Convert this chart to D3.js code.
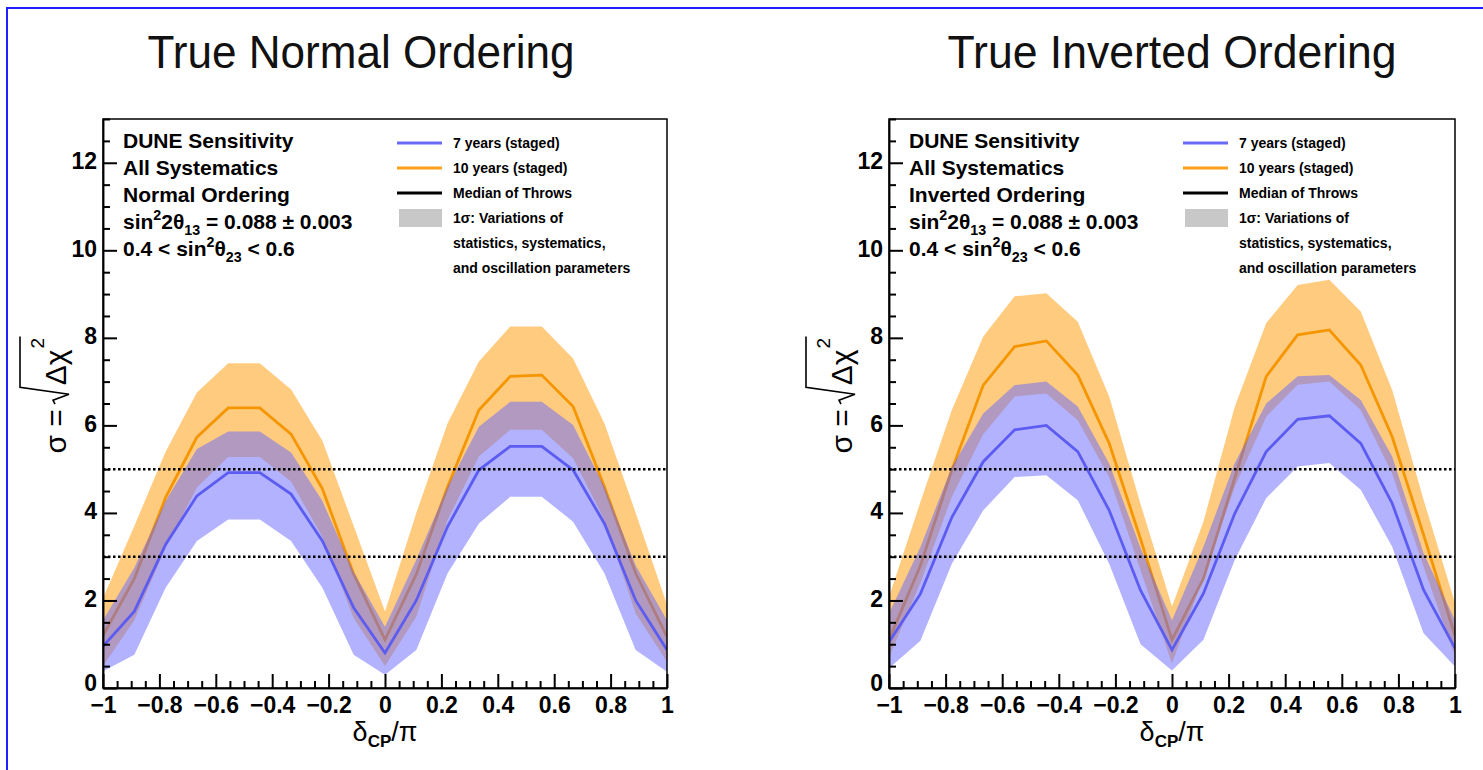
<!DOCTYPE html>
<html><head><meta charset="utf-8">
<script src="https://cdn.jsdelivr.net/npm/d3@7"></script>
<style>
body{margin:0;background:#fff}
svg{display:block}
text{font-family:"Liberation Sans",Arial,Helvetica,sans-serif}
</style>
</head><body>
<svg id="c" width="1483" height="770"></svg>
<script>
// ---------------- data ----------------
const deltaCP = [-1, -0.889, -0.778, -0.667, -0.556, -0.444, -0.333, -0.222, -0.111, 0,
                 0.111, 0.222, 0.333, 0.444, 0.556, 0.667, 0.778, 0.889, 1];

// True Normal Ordering
const noOrangeMed = [1.2, 2.5, 4.35, 5.73, 6.4, 6.4, 5.8, 4.55, 2.6, 1.1, 2.6, 4.6, 6.35, 7.12, 7.15, 6.43, 4.6, 2.62, 1.17];
const noOrangeHi  = [2.05, 3.7, 5.4, 6.75, 7.42, 7.42, 6.82, 5.65, 3.7, 1.75, 4.0, 6.05, 7.46, 8.26, 8.26, 7.53, 6.05, 4.0, 1.9];
const noOrangeLo  = [0.5, 1.55, 3.2, 4.58, 5.28, 5.28, 4.72, 3.45, 1.6, 0.5, 1.63, 3.84, 5.29, 5.9, 5.9, 5.25, 3.84, 1.7, 0.6];
const noBlueMed   = [0.95, 1.75, 3.28, 4.39, 4.92, 4.92, 4.43, 3.36, 1.83, 0.8, 2.0, 3.69, 4.98, 5.52, 5.52, 4.98, 3.76, 2.0, 0.87];
const noBlueHi    = [1.55, 2.75, 4.27, 5.46, 5.86, 5.86, 5.38, 4.27, 2.65, 1.4, 2.93, 4.6, 5.97, 6.54, 6.54, 6.01, 4.6, 2.8, 1.55];
const noBlueLo    = [0.38, 0.76, 2.29, 3.36, 3.85, 3.85, 3.36, 2.29, 0.76, 0.3, 0.87, 2.62, 3.76, 4.37, 4.37, 3.8, 2.62, 0.87, 0.37];

// True Inverted Ordering
const ioOrangeMed = [1.1, 2.8, 4.98, 6.92, 7.8, 7.93, 7.15, 5.59, 3.4, 1.1, 2.5, 4.8, 7.12, 8.07, 8.18, 7.38, 5.74, 3.5, 1.2];
const ioOrangeHi  = [2.08, 4.25, 6.35, 8.03, 8.95, 9.02, 8.37, 6.66, 4.2, 1.86, 3.8, 6.43, 8.34, 9.21, 9.33, 8.6, 6.81, 4.3, 1.94];
const ioOrangeLo  = [0.7, 2.4, 4.37, 5.8, 6.66, 6.73, 6.12, 4.82, 2.69, 0.56, 2.54, 4.6, 6.2, 6.93, 7.0, 6.35, 4.9, 2.77, 0.72];
const ioBlueMed   = [1.05, 2.15, 3.9, 5.17, 5.9, 6.0, 5.4, 4.06, 2.23, 0.87, 2.16, 3.99, 5.4, 6.14, 6.22, 5.59, 4.22, 2.24, 0.91];
const ioBlueHi    = [1.7, 3.22, 5.05, 6.27, 6.92, 7.0, 6.43, 5.13, 3.2, 1.55, 3.23, 5.14, 6.5, 7.12, 7.15, 6.58, 5.29, 3.08, 1.55];
const ioBlueLo    = [0.45, 1.08, 2.84, 4.06, 4.82, 4.86, 4.29, 2.84, 1.0, 0.4, 1.1, 2.93, 4.34, 5.06, 5.14, 4.53, 3.23, 1.25, 0.49];

const sigmaLevels = [3, 5];
const xMajorTicks = [-1, -0.8, -0.6, -0.4, -0.2, 0, 0.2, 0.4, 0.6, 0.8, 1];
const yMajorTicks = [0, 2, 4, 6, 8, 10, 12];
const legendLabels = ["7 years (staged)", "10 years (staged)", "Median of Throws",
                      "1σ: Variations of", "statistics, systematics,", "and oscillation parameters"];
const panelTitles = ["True Normal Ordering", "True Inverted Ordering"];
const orderingLabels = ["Normal Ordering", "Inverted Ordering"];

// ---------------- drawing ----------------
const svg = d3.select("#c");
svg.append("rect").attr("x", 7).attr("y", 8).attr("width", 1600).attr("height", 900)
  .attr("fill", "none").attr("stroke", "#2020ff").attr("stroke-width", 2);

const ORANGE = "#ff9900", BLUE = "#6666ff";
const FONT = '"Liberation Sans",Arial,Helvetica,sans-serif';

function rich(sel, parts, size) {
  let cur = 0;
  parts.forEach(([t, m]) => {
    const target = m === 1 ? -0.42 * size : (m === -1 ? 0.28 * size : 0);
    sel.append("tspan").attr("dy", target - cur)
      .attr("font-size", m ? size * 0.68 : size).text(t);
    cur = target;
  });
}

const panels = [
  {title: panelTitles[0], titleX: 361, x0: 103, x1: 667, ord: orderingLabels[0],
   oMed: noOrangeMed, oHi: noOrangeHi, oLo: noOrangeLo, bMed: noBlueMed, bHi: noBlueHi, bLo: noBlueLo},
  {title: panelTitles[1], titleX: 1172, x0: 889, x1: 1455, ord: orderingLabels[1],
   oMed: ioOrangeMed, oHi: ioOrangeHi, oLo: ioOrangeLo, bMed: ioBlueMed, bHi: ioBlueHi, bLo: ioBlueLo}
];

panels.forEach((p, pi) => {
  const x = d3.scaleLinear().domain([-1, 1]).range([p.x0, p.x1]);
  const y = d3.scaleLinear().domain([0, 13]).range([688, 119]);
  const g = svg.append("g");

  g.append("text").attr("x", p.titleX).attr("y", 68).attr("text-anchor", "middle")
    .attr("font-size", 46).attr("textLength", pi === 0 ? 427 : 449).attr("lengthAdjust", "spacingAndGlyphs")
    .attr("fill", "#111").text(p.title);

  const clipId = "clip" + pi;
  g.append("clipPath").attr("id", clipId).append("rect")
    .attr("x", p.x0).attr("y", 119).attr("width", p.x1 - p.x0).attr("height", 688 - 119);
  const plot = g.append("g").attr("clip-path", `url(#${clipId})`);

  const band = (lo, hi) => d3.area().x((d, i) => x(deltaCP[i])).y0((d, i) => y(lo[i])).y1((d, i) => y(hi[i]));
  const line = (arr) => d3.line().x((d, i) => x(deltaCP[i])).y((d, i) => y(arr[i]));

  plot.append("path").datum(p.oHi).attr("d", band(p.oLo, p.oHi)).attr("fill", ORANGE).attr("fill-opacity", 0.5);
  plot.append("path").datum(p.oMed).attr("d", line(p.oMed)).attr("fill", "none").attr("stroke", "#f59500").attr("stroke-width", 2.8);
  plot.append("path").datum(p.bHi).attr("d", band(p.bLo, p.bHi)).attr("fill", BLUE).attr("fill-opacity", 0.5);
  plot.append("path").datum(p.bMed).attr("d", line(p.bMed)).attr("fill", "none").attr("stroke", "#5c5cf2").attr("stroke-width", 2.8);

  sigmaLevels.forEach(s => {
    plot.append("line").attr("x1", x(-1)).attr("x2", x(1)).attr("y1", y(s)).attr("y2", y(s))
      .attr("stroke", "#000").attr("stroke-width", 2.5).attr("stroke-dasharray", "2.5,2.5");
  });

  g.append("rect").attr("x", p.x0).attr("y", 119).attr("width", p.x1 - p.x0).attr("height", 688 - 119)
    .attr("fill", "none").attr("stroke", "#000").attr("stroke-width", 1.5);

  const fmt = d => (d < 0 ? "\u2212" : "") + String(+Math.abs(d).toFixed(1));

  const yMinor = d3.range(0, 13.01, 0.5).filter(v => !yMajorTicks.includes(v));
  const ya = g.append("g").attr("transform", `translate(${p.x0},0)`)
    .call(d3.axisLeft(y).tickValues(yMajorTicks).tickSize(-14).tickSizeOuter(0).tickPadding(6).tickFormat(d => d));
  const ya2 = g.append("g").attr("transform", `translate(${p.x0},0)`)
    .call(d3.axisLeft(y).tickValues(yMinor).tickSize(-7).tickSizeOuter(0).tickFormat(""));
  const xMinor = d3.range(-1, 1.001, 0.05).map(v => +v.toFixed(2)).filter(v => !xMajorTicks.some(m => Math.abs(m - v) < 1e-6));
  const xa = g.append("g").attr("transform", `translate(0,688)`)
    .call(d3.axisBottom(x).tickValues(xMajorTicks).tickSize(-14).tickSizeOuter(0).tickPadding(12).tickFormat(fmt));
  const xa2 = g.append("g").attr("transform", `translate(0,688)`)
    .call(d3.axisBottom(x).tickValues(xMinor).tickSize(-7).tickSizeOuter(0).tickFormat(""));
  [ya, ya2, xa, xa2].forEach(a => {
    a.select(".domain").attr("stroke", "#000").attr("stroke-width", 1.5);
    a.selectAll(".tick line").attr("stroke", "#000").attr("stroke-width", 2);
    a.selectAll(".tick text").attr("font-family", FONT).attr("font-size", 23).attr("font-weight", "bold").attr("fill", "#000");
  });
  ya.selectAll(".tick text").attr("dy", d => d === 0 ? "0.12em" : "0.25em");
  xa.selectAll(".tick text").attr("dy", "0.58em");

  // x title
  const xt = g.append("text").attr("x", (p.x0 + p.x1) / 2).attr("y", 741).attr("text-anchor", "middle")
    .attr("fill", "#000");
  xt.append("tspan").attr("font-size", 27).text("δ");
  xt.append("tspan").attr("font-size", 17).attr("font-weight", "bold").attr("dy", 6).text("CP");
  xt.append("tspan").attr("font-size", 27).attr("dy", -6).text("/π");

  // y title: sigma = sqrt(Delta chi^2)
  const yg = g.append("g").attr("transform", `translate(${p.x0 - 37},395) rotate(-90)`);
  const inner = yg.append("g");
  const t1 = inner.append("text").attr("x", 0).attr("y", 0).attr("font-size", 30).attr("fill", "#000").text("σ =");
  const w1 = t1.node().getComputedTextLength();
  const a = w1 + 5;
  const t2 = inner.append("text").attr("x", a + 19).attr("y", 0).attr("font-size", 30).attr("fill", "#000").text("Δχ");
  const w2 = t2.node().getComputedTextLength();
  inner.append("text").attr("x", a + 19 + w2 + 1).attr("y", -22).attr("font-size", 19).attr("fill", "#000").text("2");
  const end = a + 19 + w2 + 13;
  inner.append("path").attr("d", `M${a},-11 L${a + 4},-13 L${a + 10},3 L${a + 17},-46 L${end},-46`)
    .attr("fill", "none").attr("stroke", "#000").attr("stroke-width", 1.6);
  inner.attr("transform", `translate(${-end / 2},0)`);

  // info text block
  const tx = p.x0 + 20;
  const fs = 21;
  const lines = [
    [["DUNE Sensitivity", 0]],
    [["All Systematics", 0]],
    [[p.ord, 0]],
    [["sin", 0], ["2", 1], ["2θ", 0], ["13", -1], [" = 0.088 ± 0.003", 0]],
    [["0.4 < sin", 0], ["2", 1], ["θ", 0], ["23", -1], [" < 0.6", 0]]
  ];
  lines.forEach((ln, i) => {
    const t = g.append("text").attr("x", tx).attr("y", 148 + i * 27).attr("font-weight", "bold").attr("fill", "#000");
    rich(t, ln, fs);
  });

  // legend
  const lx = p.x0 + 294, lx2 = p.x0 + 339, ltx = p.x0 + 350;
  const rowY = i => 143 + i * 25;
  ["#6a6af5", "#f9a21a", "#000"].forEach((c, i) => {
    g.append("line").attr("x1", lx).attr("x2", lx2).attr("y1", rowY(i)).attr("y2", rowY(i))
      .attr("stroke", c).attr("stroke-width", 3);
  });
  g.append("rect").attr("x", lx + 2).attr("y", rowY(3) - 9).attr("width", lx2 - lx - 2).attr("height", 18)
    .attr("fill", "#c8c8c8");
  legendLabels.forEach((l, i) => {
    g.append("text").attr("x", ltx).attr("y", rowY(i)).attr("dy", "0.36em").attr("font-size", 14)
      .attr("font-weight", "bold").attr("fill", "#000").text(l);
  });
});
</script>
</body></html>
